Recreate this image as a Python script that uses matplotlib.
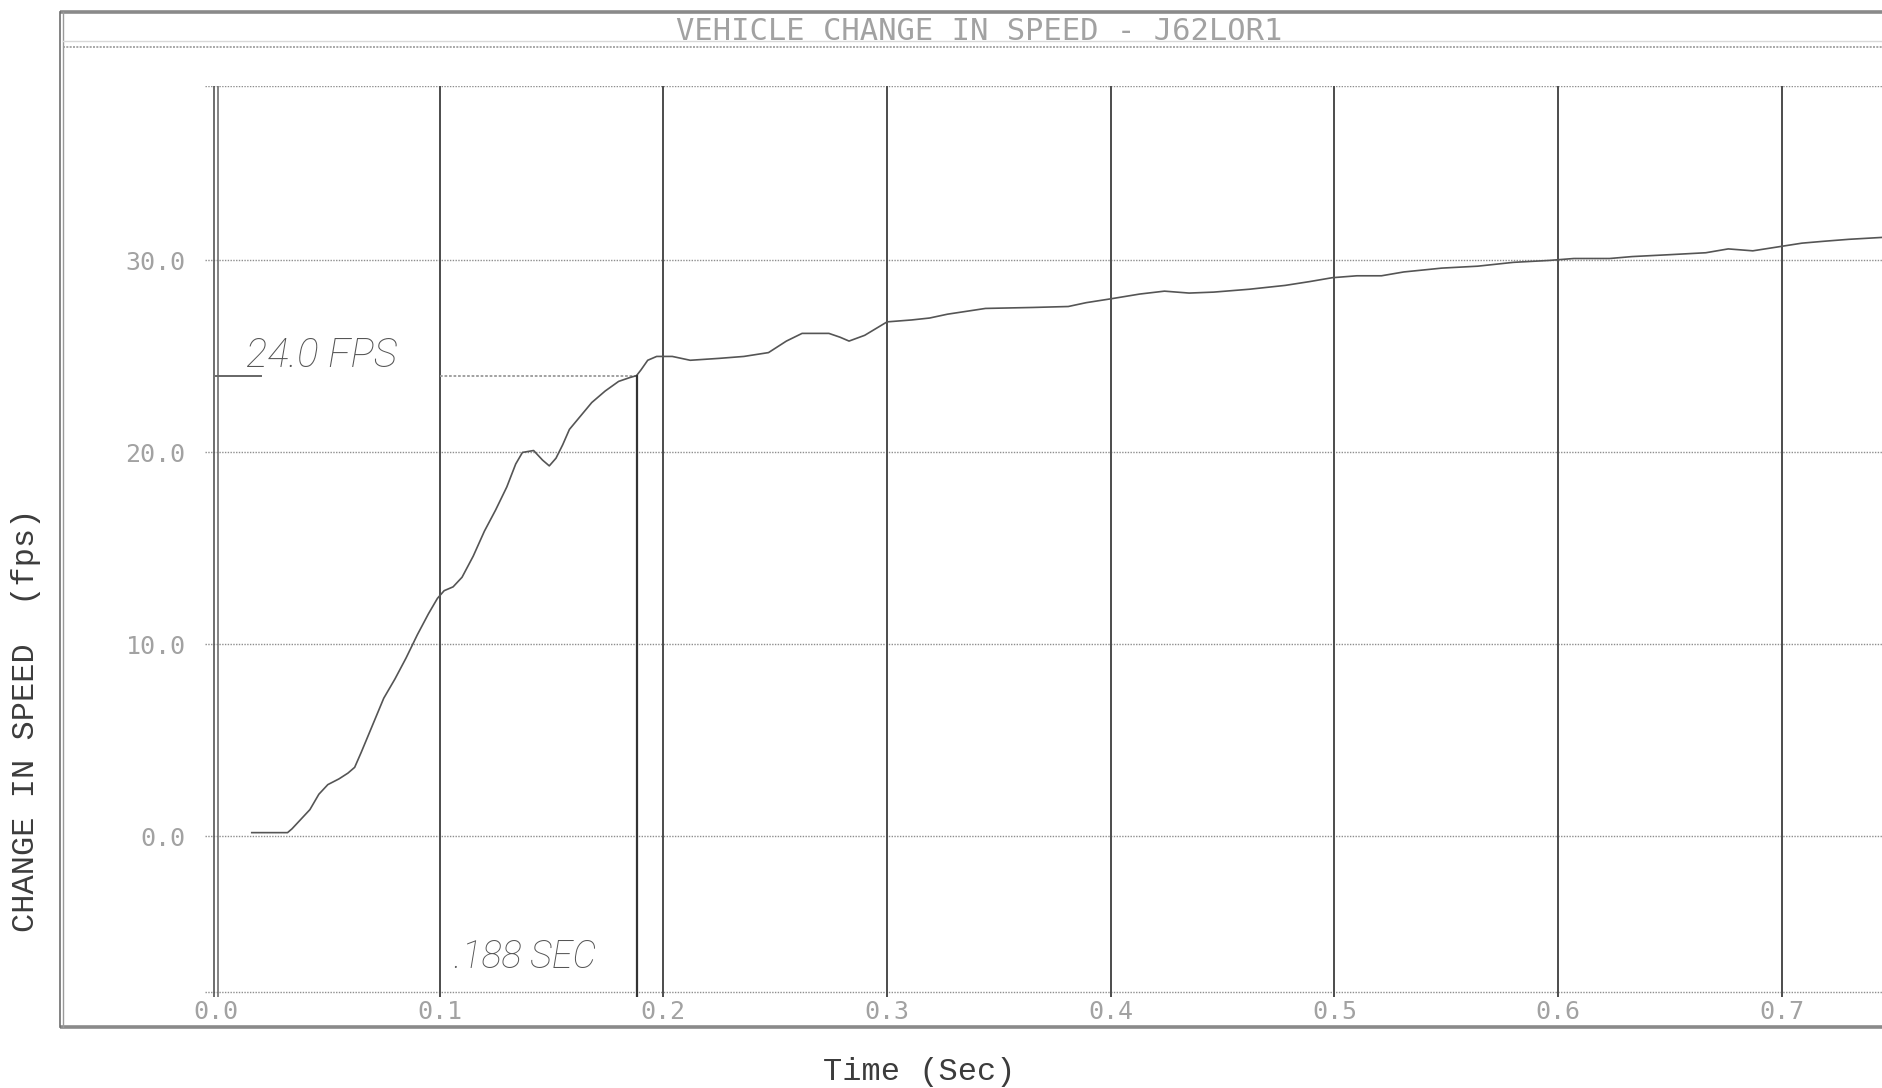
import matplotlib
matplotlib.use("Agg")
import matplotlib.pyplot as plt

# ---- data -------------------------------------------------------------
time_s = [0.016, 0.032, 0.034, 0.038, 0.042, 0.046, 0.050, 0.055, 0.059, 0.062,
          0.065, 0.070, 0.075, 0.080, 0.085, 0.090, 0.095, 0.099, 0.102, 0.106,
          0.110, 0.115, 0.120, 0.125, 0.130, 0.134, 0.137, 0.142, 0.146, 0.149,
          0.152, 0.155, 0.158, 0.163, 0.168, 0.174, 0.180, 0.185, 0.188, 0.190,
          0.193, 0.197, 0.204, 0.212, 0.225, 0.236, 0.247, 0.255, 0.262, 0.274,
          0.279, 0.283, 0.290, 0.300, 0.311, 0.319, 0.327, 0.344, 0.365, 0.381,
          0.389, 0.400, 0.413, 0.424, 0.435, 0.446, 0.462, 0.478, 0.489, 0.499,
          0.510, 0.521, 0.531, 0.548, 0.564, 0.580, 0.596, 0.607, 0.623, 0.633,
          0.650, 0.666, 0.676, 0.687, 0.698, 0.709, 0.719, 0.730, 0.745]
speed_fps = [0.2, 0.2, 0.4, 0.9, 1.4, 2.2, 2.7, 3.0, 3.3, 3.6,
             4.4, 5.8, 7.2, 8.2, 9.3, 10.5, 11.6, 12.4, 12.8, 13.0,
             13.5, 14.6, 15.9, 17.0, 18.2, 19.4, 20.0, 20.1, 19.6, 19.3,
             19.7, 20.4, 21.2, 21.9, 22.6, 23.2, 23.7, 23.9, 24.0, 24.3,
             24.8, 25.0, 25.0, 24.8, 24.9, 25.0, 25.2, 25.8, 26.2, 26.2,
             26.0, 25.8, 26.1, 26.8, 26.9, 27.0, 27.2, 27.5, 27.55, 27.6,
             27.8, 28.0, 28.25, 28.4, 28.3, 28.35, 28.5, 28.7, 28.9, 29.1,
             29.2, 29.2, 29.4, 29.6, 29.7, 29.9, 30.0, 30.1, 30.1, 30.2,
             30.3, 30.4, 30.6, 30.5, 30.7, 30.9, 31.0, 31.1, 31.2]

x_ticks = [0.0, 0.1, 0.2, 0.3, 0.4, 0.5, 0.6, 0.7]
x_tick_labels = ["0.0", "0.1", "0.2", "0.3", "0.4", "0.5", "0.6", "0.7"]
y_ticks = [0.0, 10.0, 20.0, 30.0]
y_tick_labels = ["0.0", "10.0", "20.0", "30.0"]

mark_time = 0.188
mark_speed = 24.0

title = "VEHICLE CHANGE IN SPEED - J62LOR1"

# ---- figure -----------------------------------------------------------
W, H = 1883, 1088
fig = plt.figure(figsize=(W / 100, H / 100), dpi=100)
fig.patch.set_facecolor("white")

# background layer in pixel units for the printed page frame
bg = fig.add_axes([0, 0, 1, 1])
bg.set_xlim(0, W)
bg.set_ylim(H, 0)
bg.axis("off")
frame_c = "#8a8a8a"
bg.plot([60, W], [12, 12], color=frame_c, lw=2.6, solid_capstyle="butt")
bg.plot([60, W], [1027, 1027], color=frame_c, lw=2.6, solid_capstyle="butt")
bg.plot([60, 60], [12, 1027], color="#6e6e6e", lw=1.2)
bg.plot([63, 63], [12, 1027], color="#9a9a9a", lw=1.0)
bg.plot([63, W], [41, 41], color="#d8d8d8", lw=1.0)
bg.plot([63, W], [47, 47], color="#9a9a9a", lw=1.2, ls=(0, (1.2, 0.8)))

dot_font = "DejaVu Sans Mono"
dot_color = "#a2a2a2"
label_font = "Liberation Mono"

bg.text(979, 32, title, ha="center", va="center", fontsize=22,
        family=dot_font, color=dot_color)
bg.text(26, 720, "CHANGE IN SPEED  (fps)", rotation=90, ha="center",
        va="center", fontsize=23, family=label_font, color="#3c3c3c")
bg.text(919, 1072, "Time (Sec)", ha="center", va="center", fontsize=23,
        family=label_font, color="#3c3c3c")

# ---- plot area --------------------------------------------------------
x0, x1 = -0.0049, 0.7452
y0, y1 = -8.36, 39.11
ax = fig.add_axes([205 / W, 1 - 997 / H, 1 - 205 / W, (997 - 85.5) / H])
ax.set_xlim(x0, x1)
ax.set_ylim(y0, y1)
for s in ax.spines.values():
    s.set_visible(False)
ax.set_facecolor("none")

# dotted horizontal rules
grid_c = "#8e8e8e"
for v in y_ticks + [y1 - 0.02, -8.10]:
    ax.axhline(v, color=grid_c, lw=1.0, ls=(0, (1, 1)), zorder=1)

# solid vertical rules at every tick, doubled at the origin
for t in x_ticks[1:]:
    ax.axvline(t, color="#4c4c4c", lw=1.4, zorder=2)
ax.axvline(-0.0008, color="#555555", lw=1.2, zorder=2)
ax.axvline(0.0008, color="#707070", lw=1.2, zorder=2)

# speed trace
ax.plot(time_s, speed_fps, color="#555555", lw=1.2, zorder=3)

# marker at the target speed
ax.plot([0.1, mark_time], [mark_speed, mark_speed], color="#9a9a9a",
        lw=1.3, ls=(0, (1.5, 1)), zorder=2)
ax.plot([0.0, 0.02], [mark_speed, mark_speed], color="#666666", lw=1.4,
        zorder=2)
ax.plot([mark_time, mark_time], [y0, mark_speed], color="#333333", lw=1.6,
        zorder=3)

ann_kw = dict(family=["Roboto", "DejaVu Sans"], style="italic",
              weight="light", color="#555555")
ax.text(0.0134, mark_speed + 0.05, f"{mark_speed:.1f} FPS", ha="left",
        va="bottom", fontsize=29, **ann_kw)
ax.text(0.1063, -7.25, f"{mark_time:.3f}".lstrip("0") + " SEC", ha="left",
        va="bottom", fontsize=27, **ann_kw)

# tick labels
ax.set_xticks(x_ticks)
ax.set_xticklabels(x_tick_labels)
ax.set_yticks(y_ticks)
ax.set_yticklabels(y_tick_labels)
ax.tick_params(axis="both", length=0, labelcolor=dot_color, labelsize=18)
ax.tick_params(axis="x", pad=2)
ax.tick_params(axis="y", pad=14)
for lab in ax.get_xticklabels() + ax.get_yticklabels():
    lab.set_family(dot_font)

fig.savefig("out.png", dpi=100, facecolor="white")
